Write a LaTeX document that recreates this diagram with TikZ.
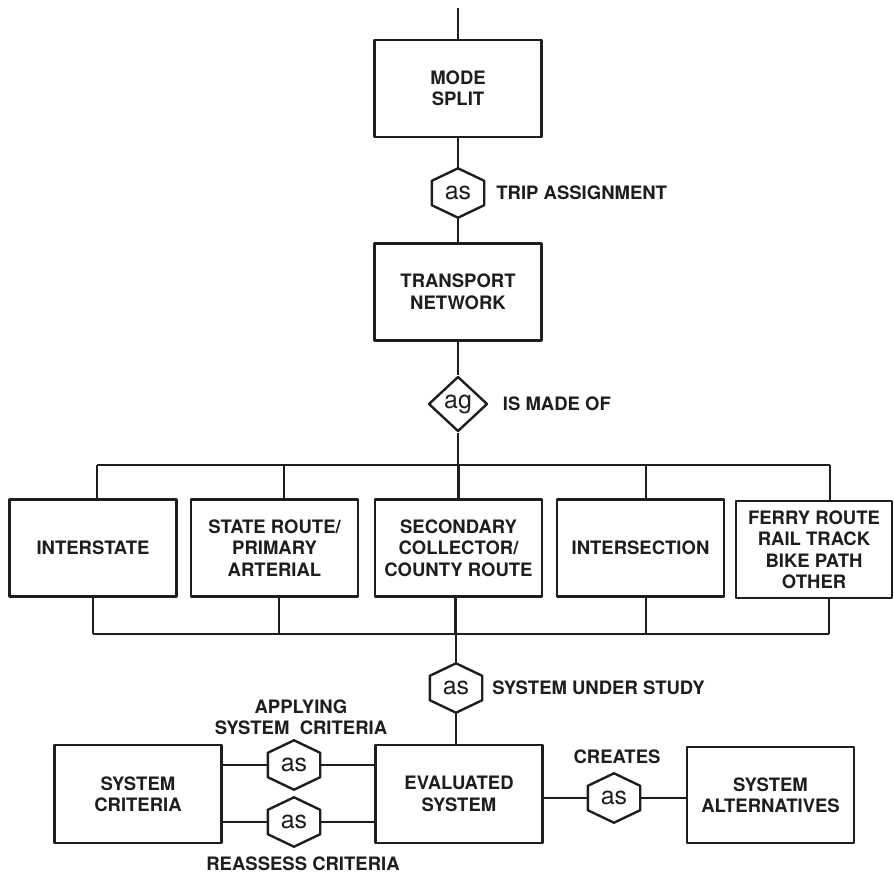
\documentclass[tikz,border=0pt]{standalone}
\usepackage{fontspec}
\setmainfont{TeX Gyre Heros}
\usepackage{tikz}
\usetikzlibrary{positioning,shapes.geometric}
\definecolor{Ink}{HTML}{1E1E1E}

\tikzset{
  rule/.style={Ink,line width=2.4pt,line join=round},
  box/.style={rule,draw,minimum width=167pt,minimum height=97pt,inner sep=2pt,
    align=center,font=\fontsize{18.5}{21.5}\selectfont\bfseries},
  hexa/.style={minimum width=52pt,minimum height=49pt,inner sep=0pt,Ink,
    font=\fontsize{25}{25}\selectfont},
  aggr/.style={rule,draw,diamond,aspect=1,minimum width=59pt,minimum height=55pt,
    inner sep=0pt,font=\fontsize{25}{25}\selectfont},
  lab/.style={Ink,inner sep=0pt,align=center,font=\fontsize{18.5}{21.5}\selectfont\bfseries}
}

\begin{document}
\begin{tikzpicture}[x=1pt,y=-1pt]
  \useasboundingbox (0,0) rectangle (894,876);
  \def\peak{12.5pt}

  % upper chain
  \coordinate (top) at (458,8);
  \node[box] (split) at (458,88.5) {MODE\\SPLIT};
  \node[hexa] (as1) at (458,193) {as};
  \node[lab,anchor=west,right=12pt of as1] (trip) {TRIP ASSIGNMENT};
  \node[box] (network) at (458,292) {TRANSPORT\\NETWORK};
  \node[aggr] (ag) at (458,404) {ag};
  \node[lab,anchor=west,right=14pt of ag] (madeof) {IS MADE OF};

  % the five kinds of link
  \coordinate (bustop) at (458,465);
  \coordinate (busbot) at (456,634);
  \node[box] (interstate) at (93,548) {INTERSTATE};
  \node[box] (stateroute) at (274.5,548) {STATE ROUTE/\\PRIMARY\\ARTERIAL};
  \node[box] (secondary) at (458.5,548) {SECONDARY\\COLLECTOR/\\COUNTY ROUTE};
  \node[box] (intersection) at (640.5,548) {INTERSECTION};
  \node[box,minimum width=156pt] (ferry) at (814,549.5) {FERRY ROUTE\\RAIL TRACK\\BIKE PATH\\OTHER};

  % lower part
  \node[hexa] (as2) at (456,688) {as};
  \node[lab,anchor=west,right=10pt of as2] (study) {SYSTEM UNDER STUDY};
  \node[box,minimum height=98pt] (criteria) at (138,794) {SYSTEM\\CRITERIA};
  \node[box,minimum height=98pt] (evaluated) at (459,794) {EVALUATED\\SYSTEM};
  \node[box,minimum height=96pt] (alternatives) at (770.5,795) {SYSTEM\\ALTERNATIVES};
  \node[hexa] (as3) at (294,765) {as};
  \node[hexa] (as4) at (294,822) {as};
  \node[hexa] (as5) at (614,798) {as};
  \node[lab,above=5pt of as3,xshift=7pt] (applying) {APPLYING\\SYSTEM\ \ CRITERIA};
  \node[lab,below=10pt of as4,xshift=9pt] (reassess) {REASSESS CRITERIA};
  \node[lab,above=9pt of as5,xshift=3pt] (creates) {CREATES};

  \foreach \h in {as1,as2,as3,as4,as5}
    \draw[rule] (\h.north) -- ([yshift=-\peak]\h.north east) -- ([yshift=\peak]\h.south east)
      -- (\h.south) -- ([yshift=\peak]\h.south west) -- ([yshift=-\peak]\h.north west) -- cycle;

  \draw[rule] (top) -- (split);
  \draw[rule] (split) -- (as1);
  \draw[rule] (as1) -- (network);
  \draw[rule] (network) -- (ag);
  \draw[rule] (ag) -- (bustop);
  \draw[rule] ([xshift=4pt]interstate.north |- bustop) -- ([xshift=16pt]ferry.north |- bustop);
  \draw[rule] (interstate.south |- busbot) -- ([xshift=15pt]ferry.south |- busbot);
  \foreach \n/\u/\d in {interstate/4/0,stateroute/9.5/4.5,secondary/0/-3,intersection/5.5/5.5,ferry/16/15} {
    \draw[rule] ([xshift=\u pt]\n.north) -- ([xshift=\u pt]\n.north |- bustop);
    \draw[rule] ([xshift=\d pt]\n.south) -- ([xshift=\d pt]\n.south |- busbot);
  }
  \draw[rule] (busbot) -- (as2);
  \draw[rule] (as2) -- (as2 |- evaluated.north);
  \draw[rule] (criteria.east |- as3) -- (as3.west);
  \draw[rule] (as3.east) -- (evaluated.west |- as3);
  \draw[rule] (criteria.east |- as4) -- (as4.west);
  \draw[rule] (as4.east) -- (evaluated.west |- as4);
  \draw[rule] (evaluated.east |- as5) -- (as5.west);
  \draw[rule] (as5.east) -- (alternatives.west |- as5);
\end{tikzpicture}
\end{document}
